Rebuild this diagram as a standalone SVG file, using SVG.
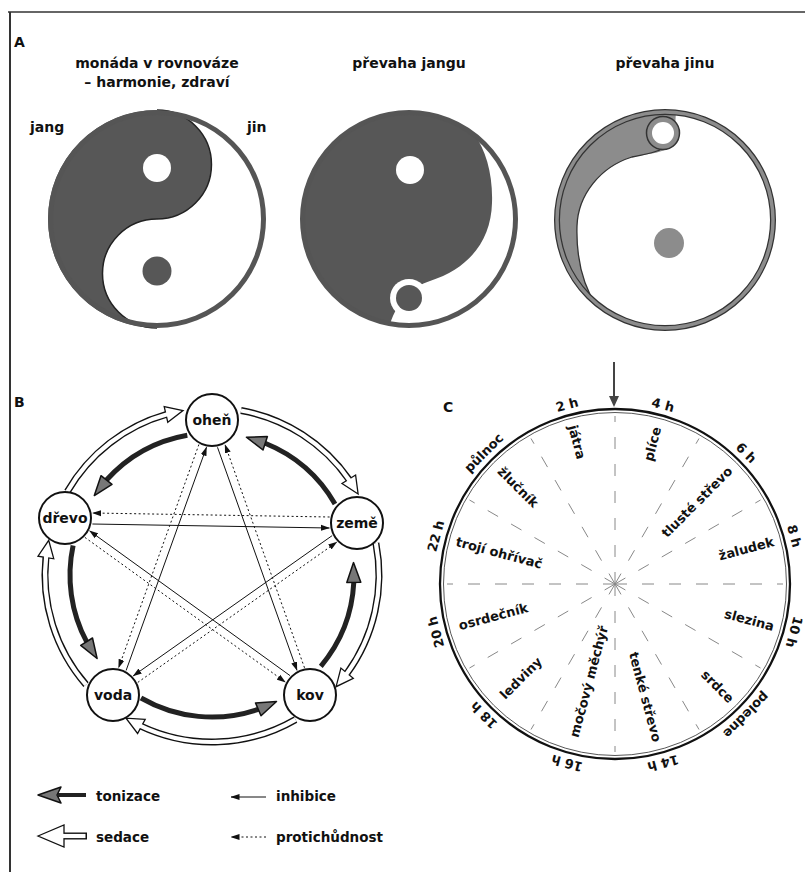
<svg xmlns="http://www.w3.org/2000/svg" width="805" height="872" viewBox="0 0 805 872">
<defs>
<style>
text{font-family:"DejaVu Sans","Liberation Sans",sans-serif;font-weight:bold;fill:#111}
.t14{font-size:14px}
.leg{font-size:13.5px}
.lbl{font-size:13px}
.node circle{fill:#fff;stroke:#111;stroke-width:2}
.node text{font-size:14px;text-anchor:middle}
.inh{stroke:#111;stroke-width:1;fill:none;marker-end:url(#mh)}
.opp{stroke:#111;stroke-width:1;fill:none;stroke-dasharray:2 2.5;marker-end:url(#mh)}
.sedO{stroke:#111;stroke-width:7;fill:none}
.sedI{stroke:#fff;stroke-width:4.2;fill:none}
.sedH{fill:#fff;stroke:#111;stroke-width:1.3;stroke-linejoin:miter}
.ton{stroke:#222;stroke-width:5;fill:none}
.tonH{fill:#777;stroke:#111;stroke-width:1.5;stroke-linejoin:round}
.spoke{stroke:#888;stroke-width:1;stroke-dasharray:12 15;fill:none}
.dark{fill:#575757}
.light{fill:#8c8c8c}
</style>
<marker id="mh" markerWidth="9" markerHeight="7" refX="8.5" refY="3.5" orient="auto" markerUnits="userSpaceOnUse"><path d="M0,0.5 L9,3.5 L0,6.5 Z" fill="#111"/></marker>
</defs>
<rect width="805" height="872" fill="#fff"/>
<g id="frame" stroke="#333" fill="none">
<path d="M8,12 H805" stroke-width="1.6"/>
<path d="M10,12 V872" stroke-width="2"/>
</g>

<!-- Section A -->
<g id="sectionA">
<text x="14" y="47" class="t14">A</text>
<text x="157" y="68" class="t14" text-anchor="middle">monáda v rovnováze</text>
<text x="157" y="87" class="t14" text-anchor="middle">– harmonie, zdraví</text>
<text x="409" y="68" class="t14" text-anchor="middle">převaha jangu</text>
<text x="665" y="68" class="t14" text-anchor="middle">převaha jinu</text>
<text x="30" y="132" class="t14">jang</text>
<text x="247" y="132" class="t14">jin</text>
</g>
<g id="yy1">
<circle cx="157" cy="219" r="106.5" fill="#fff"/>
<path class="dark" d="M157,110 A109,109 0 0 0 157,328 A54.5,54.5 0 0 1 157,219 A54.5,54.5 0 0 0 157,110 Z"/>
<path d="M157,328 A54.5,54.5 0 0 1 157,219 A54.5,54.5 0 0 0 157,110" fill="none" stroke="#222" stroke-width="1.5"/>
<circle cx="157" cy="219" r="106.5" fill="none" stroke="#555" stroke-width="5"/>
<circle cx="157" cy="168" r="14" fill="#fff"/>
<circle cx="157" cy="271" r="14.5" class="dark"/>
</g>
<g id="yy2">
<circle cx="409" cy="219" r="106.5" fill="#fff"/>
<path class="dark" d="M474,134 C486,150 493,175 492,203 C491,240 470,268 430,281 C412,287 398,300 390,324 A107,107 0 1 1 474,134 Z"/>
<circle cx="409" cy="219" r="106.5" fill="none" stroke="#555" stroke-width="5"/>
<circle cx="409" cy="298" r="19" fill="#fff"/>
<circle cx="409" cy="298" r="13" class="dark"/>
<circle cx="410" cy="170" r="14" fill="#fff"/>
</g>
<g id="yy3">
<circle cx="665" cy="220" r="108" fill="#fff"/>
<path class="light" d="M597,307 A110,110 0 0 1 676,111 L674,146 C664,152 650,154 632,157 C600,167 578,195 577,226 C576,260 584,287 597,307 Z"/>
<path d="M660,150 C650,154 640,155 632,157 C600,167 578,195 577,226 C576,260 584,287 597,307" fill="none" stroke="#333" stroke-width="1.3"/>
<circle cx="665" cy="220" r="108" fill="none" stroke="#333" stroke-width="6"/>
<circle cx="665" cy="220" r="108" fill="none" stroke="#8c8c8c" stroke-width="3.5"/>
<circle cx="663" cy="133" r="16.5" class="light" stroke="#333" stroke-width="1.5"/>
<circle cx="663" cy="133" r="11" fill="#fff"/>
<circle cx="669" cy="243" r="15" class="light"/>
</g>

<!-- Section B -->
<text x="14" y="407" class="t14">B</text>
<g id="connectorsB">
<!-- sedace (hollow, clockwise) -->
<path class="sedO" d="M67.4,491.5 A167,167 0 0 1 166.0,414.5"/>
<polygon class="sedH" points="167.8,422.3 183.0,410.5 164.2,406.7"/>
<path class="sedI" d="M67.4,491.5 A167,167 0 0 1 168.8,413.7"/>
<path class="sedO" d="M241.0,410.5 A167,167 0 0 1 348.8,479.2"/>
<polygon class="sedH" points="342.0,483.5 358.1,494.0 355.6,475.0"/>
<path class="sedI" d="M241.0,410.5 A167,167 0 0 1 350.4,481.6"/>
<path class="sedO" d="M375.9,543.1 A167,167 0 0 1 347.1,673.2"/>
<polygon class="sedH" points="340.9,668.1 336.1,686.7 353.3,678.3"/>
<path class="sedI" d="M375.9,543.1 A167,167 0 0 1 345.4,675.5"/>
<path class="sedO" d="M295.5,719.6 A167,167 0 0 1 141.4,726.4"/>
<polygon class="sedH" points="145.2,719.3 126.0,718.2 137.6,733.5"/>
<path class="sedI" d="M295.5,719.6 A167,167 0 0 1 138.8,725.1"/>
<path class="sedO" d="M86.0,684.6 A167,167 0 0 1 45.9,557.5"/>
<polygon class="sedH" points="53.8,558.8 48.7,540.3 38.0,556.2"/>
<path class="sedI" d="M86.0,684.6 A167,167 0 0 1 46.3,554.6"/>
<!-- tonizace (dark, counter-clockwise) -->
<path class="ton" d="M187.3,435.2 A142,142 0 0 0 106.5,480.0"/>
<polygon class="tonH" points="101.0,475.7 94.3,495.6 112.0,484.3"/>
<path class="ton" d="M335.0,504.0 A142,142 0 0 0 265.2,443.3"/>
<polygon class="tonH" points="267.4,436.6 246.4,437.2 263.0,450.0"/>
<path class="ton" d="M320.8,666.3 A142,142 0 0 0 353.8,582.4"/>
<polygon class="tonH" points="360.8,582.3 353.5,562.6 346.8,582.5"/>
<path class="ton" d="M141.0,698.0 A142,142 0 0 0 258.2,709.3"/>
<polygon class="tonH" points="261.0,715.7 276.5,701.5 255.5,702.9"/>
<path class="ton" d="M73.1,545.5 A142,142 0 0 0 86.6,641.7"/>
<polygon class="tonH" points="80.7,645.4 97.1,658.5 92.5,638.0"/>
<!-- inhibice (solid) -->
<path class="inh" d="M92.4,524.0 L329.4,528.0"/>
<path class="inh" d="M126.1,670.5 L206.5,447.2"/>
<path class="inh" d="M217.5,447.3 L297.0,670.4"/>
<path class="inh" d="M332.2,535.6 L133.2,675.9"/>
<path class="inh" d="M290.0,675.6 L89.6,530.9"/>
<!-- protichudnost (dotted) -->
<path class="opp" d="M329.6,517.0 L92.6,513.0"/>
<path class="opp" d="M198.9,444.5 L118.6,667.8"/>
<path class="opp" d="M304.5,667.8 L225.0,444.6"/>
<path class="opp" d="M137.8,682.4 L336.8,542.1"/>
<path class="opp" d="M84.9,537.4 L285.4,682.1"/>
</g>
<g id="ohen" class="node"><circle cx="212" cy="420" r="26"/><text x="212" y="425">oheň</text></g>
<g id="drevo" class="node"><circle cx="65" cy="518" r="26"/><text x="65" y="523">dřevo</text></g>
<g id="zeme" class="node"><circle cx="357" cy="523" r="26"/><text x="357" y="528">země</text></g>
<g id="voda" class="node"><circle cx="113" cy="695" r="26"/><text x="113" y="700">voda</text></g>
<g id="kov" class="node"><circle cx="310" cy="695" r="26"/><text x="310" y="700">kov</text></g>

<!-- Legend -->
<g id="legend">
<path d="M58,795 H86" stroke="#222" stroke-width="4"/>
<polygon class="tonH" points="38,795 61,787 57,795 61,803"/>
<text x="96" y="801" class="leg">tonizace</text>
<path class="sedO" d="M62,836 H87"/>
<polygon class="sedH" points="38,836 64,825 64,847"/>
<path class="sedI" d="M60,836 H85.5"/>
<text x="96" y="842" class="leg">sedace</text>
<path class="inh" d="M266,797 H231"/>
<text x="276" y="801" class="leg">inhibice</text>
<path class="opp" d="M266,837 H231"/>
<text x="276" y="842" class="leg">protichůdnost</text>
</g>

<!-- Section C -->
<text x="443" y="412" class="t14">C</text>
<g id="clock">
<g transform="translate(615,584)">
<g class="spoke">
<path d="M0,0 L-145.5,-84" />
<path d="M0,0 L-84,-145.5"/>
<path d="M0,0 L0,-168"/>
<path d="M0,0 L84,-145.5"/>
<path d="M0,0 L145.5,-84"/>
<path d="M0,0 L168,0"/>
<path d="M0,0 L145.5,84"/>
<path d="M0,0 L84,145.5"/>
<path d="M0,0 L0,168"/>
<path d="M0,0 L-84,145.5"/>
<path d="M0,0 L-145.5,84"/>
<path d="M0,0 L-168,0"/>
</g>
<circle r="175" fill="none" stroke="#111" stroke-width="2.3"/>
<circle r="171.5" fill="none" stroke="#444" stroke-width="0.9"/>
<g class="lbl" text-anchor="middle">
<text transform="rotate(-45)" y="-181">půlnoc</text>
<text transform="rotate(-15)" y="-181">2 h</text>
<text transform="rotate(15)" y="-181">4 h</text>
<text transform="rotate(45)" y="-181">6 h</text>
<text transform="rotate(75)" y="-181">8 h</text>
<text transform="rotate(105)" y="-181">10 h</text>
<text transform="rotate(135)" y="-181">poledne</text>
<text transform="rotate(165)" y="-181">14 h</text>
<text transform="rotate(195)" y="-181">16 h</text>
<text transform="rotate(225)" y="-181">18 h</text>
<text transform="rotate(255)" y="-181">20 h</text>
<text transform="rotate(-75)" y="-181">22 h</text>
</g>
<g class="lbl" text-anchor="middle">
<text transform="rotate(45)" x="-137" y="4.5">žlučník</text>
<text transform="rotate(75)" x="-147" y="4.5">játra</text>
<text transform="rotate(-75)" x="145" y="4.5">plíce</text>
<text transform="rotate(-45)" x="116" y="4.5">tlusté střevo</text>
<text transform="rotate(-15)" x="136" y="4.5">žaludek</text>
<text transform="rotate(15)" x="139" y="4.5">slezina</text>
<text transform="rotate(45)" x="145" y="4.5">srdce</text>
<text transform="rotate(75)" x="117" y="4.5">tenké střevo</text>
<text transform="rotate(-75)" x="-101" y="4.5">močový měchýř</text>
<text transform="rotate(-45)" x="-133" y="4.5">ledviny</text>
<text transform="rotate(-15)" x="-126" y="4.5">osrdečník</text>
<text transform="rotate(15)" x="-120" y="4.5">trojí ohřívač</text>
</g>
</g>
<path d="M614,362 V398" stroke="#444" stroke-width="2"/>
<polygon points="609,396 619,396 614,407" fill="#444"/>
</g>
</svg>
